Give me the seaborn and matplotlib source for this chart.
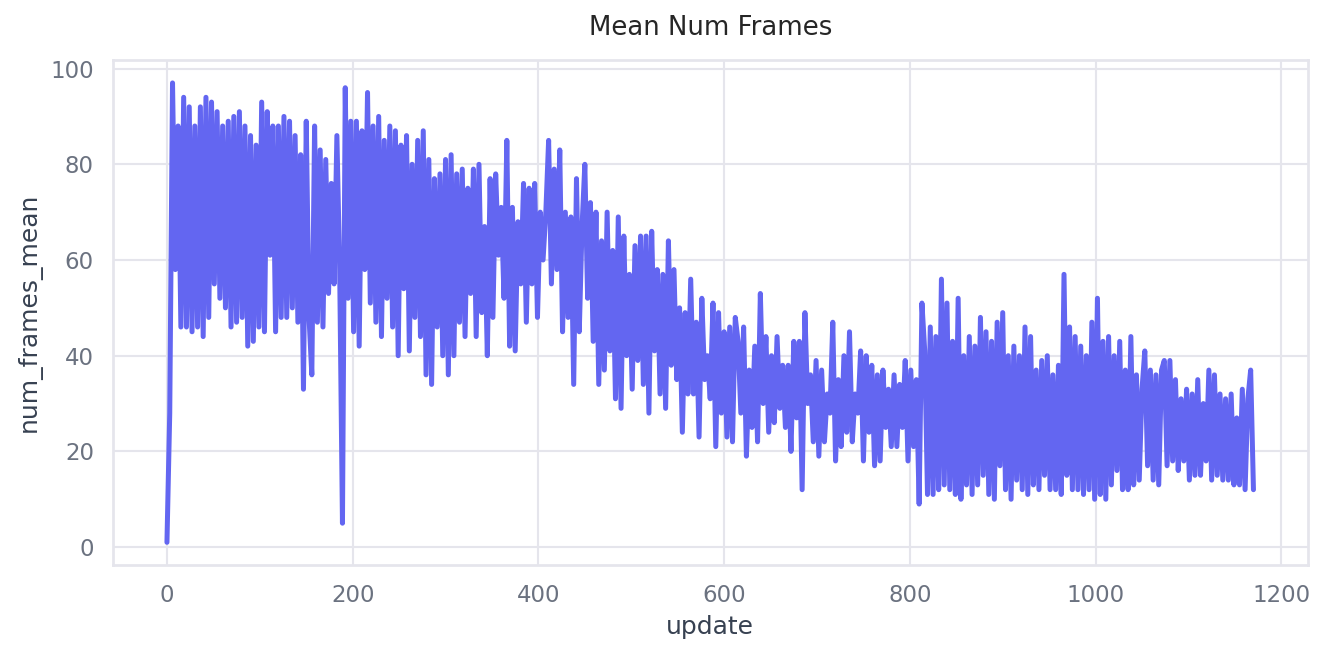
import numpy as np
import pandas as pd
import matplotlib
matplotlib.use("Agg")
import matplotlib.pyplot as plt
import seaborn as sns

# values, one point every 3 updates
frames_0_200 = [
    1, 28, 97, 58, 88, 46, 94, 46, 92, 45,
    88, 46, 92, 44, 94, 48, 93, 55, 91, 52,
    88, 50, 89, 46, 90, 47, 91, 48, 88, 42,
    86, 43, 84, 46, 93, 45, 91, 61, 88, 45,
    88, 48, 90, 48, 89, 50, 86, 47, 82, 33,
    89, 48, 36, 88, 47, 83, 46, 81, 53, 76,
    55, 86, 58, 5, 96, 52, 89,
]
frames_200_410 = [
    45, 89, 42, 87, 58, 95, 51, 88, 47, 90,
    44, 85, 52, 88, 46, 87, 40, 84, 54, 86,
    41, 80, 48, 85, 44, 87, 36, 81, 34, 77,
    46, 78, 40, 81, 36, 82, 40, 78, 47, 79,
    44, 75, 53, 79, 44, 80, 49, 67, 40, 77,
    48, 78, 61, 71, 52, 85, 42, 71, 41, 68,
    55, 76, 47, 75, 55, 76, 48, 70, 60, 70,
]
frames_410_615 = [
    85, 55, 79, 58, 83, 45, 70, 48, 69, 34,
    77, 45, 67, 80, 52, 72, 43, 70, 34, 64,
    37, 70, 41, 62, 31, 69, 29, 65, 40, 57,
    33, 63, 39, 65, 34, 65, 28, 66, 41, 58,
    32, 57, 29, 64, 38, 58, 35, 50, 24, 49,
    32, 56, 32, 47, 23, 52, 35, 40, 31, 51,
    21, 49, 28, 45, 23, 46, 22, 48,
]
frames_615_815 = [
    43, 28, 46, 19, 37, 25, 42, 22, 53, 30,
    44, 24, 40, 26, 44, 29, 38, 25, 38, 20,
    43, 27, 43, 12, 49, 30, 36, 22, 39, 19,
    37, 22, 32, 28, 47, 18, 35, 21, 40, 24,
    45, 22, 32, 28, 41, 18, 40, 24, 38, 17,
    36, 18, 37, 25, 33, 21, 36, 21, 34, 25,
    39, 18, 37, 21, 35, 9, 51,
]
frames_815_1020 = [
    41, 11, 46, 11, 44, 12, 56, 13, 51, 12,
    43, 11, 52, 10, 40, 13, 44, 11, 42, 13,
    48, 15, 45, 11, 43, 10, 47, 17, 49, 12,
    40, 10, 42, 14, 40, 12, 46, 11, 44, 13,
    37, 12, 39, 15, 40, 12, 36, 12, 38, 11,
    57, 15, 46, 12, 44, 12, 42, 11, 40, 12,
    47, 10, 52, 11, 43, 10, 44, 13, 40,
]
frames_1020_1170 = [
    16, 43, 12, 37, 12, 44, 13, 36, 14, 33,
    41, 17, 37, 14, 36, 13, 37, 39, 17, 39,
    18, 35, 16, 31, 18, 33, 14, 32, 15, 35,
    15, 30, 18, 37, 14, 36, 15, 32, 14, 31,
    14, 32, 13, 27, 13, 33, 12, 31, 37, 12,
]

num_frames_mean = (frames_0_200 + frames_200_410 + frames_410_615
                   + frames_615_815 + frames_815_1020 + frames_1020_1170)
update = np.arange(len(num_frames_mean)) * 3

df = pd.DataFrame({"update": update, "num_frames_mean": num_frames_mean})

grid_col = "#e5e5ec"
sns.set_theme(style="whitegrid", rc={
    "axes.edgecolor": grid_col,
    "grid.color": grid_col,
    "axes.linewidth": 1.3,
    "grid.linewidth": 1.0,
})
plt.rcParams["font.family"] = ["DejaVu Sans"]

fig, ax = plt.subplots(figsize=(1325 / 150, 652 / 150), dpi=150)
fig.subplots_adjust(left=0.085, right=0.987, top=0.908, bottom=0.133)

sns.lineplot(data=df, x="update", y="num_frames_mean", color="#6366f1",
             linewidth=2.4, ax=ax)

ax.set_title("Mean Num Frames", fontsize=12.5, color="#262626", pad=12)
ax.set_xlabel("update", fontsize=12, color="#374151")
ax.set_ylabel("num_frames_mean", fontsize=12, color="#374151")
ax.tick_params(axis="both", labelsize=11, labelcolor="#6b7280", length=0, pad=9)
ax.set_xticks([0, 200, 400, 600, 800, 1000, 1200])
ax.set_yticks([0, 20, 40, 60, 80, 100])
for s in ax.spines.values():
    s.set_visible(True)
    s.set_color(grid_col)

fig.savefig("out.png", dpi=150)
